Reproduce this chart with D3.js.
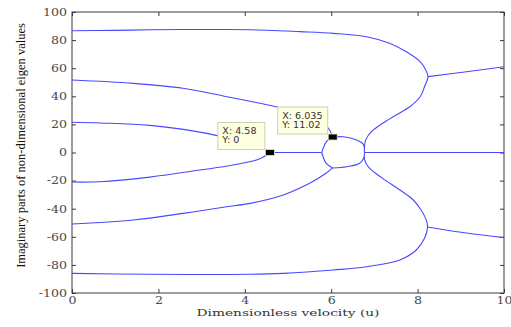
<!DOCTYPE html>
<html>
<head>
<meta charset="utf-8">
<script src="https://cdn.jsdelivr.net/npm/d3@7"></script>
<style>
  body { margin: 0; background: #fff; }
</style>
</head>
<body>
<div id="chart"></div>
<script>
// Tick values
const xTicks = [0, 2, 4, 6, 8, 10];
const yTicks = [-100, -80, -60, -40, -20, 0, 20, 40, 60, 80, 100];

// Branches of the eigenvalue loci, as [u, Im] pairs
const outerUpper = [[0, 86.7], [1, 86.9], [1.83, 87.4], [3, 87.5], [4.12, 87.4], [5.28, 86], [6.05, 84.8], [6.82, 82.4], [7.35, 77.7], [7.74, 71.7], [8.06, 64.6], [8.2, 58], [8.24, 54], [8.16, 46.8], [8.06, 39.7], [7.82, 32.6], [7.5, 26.7], [7.19, 20.8], [6.93, 14.8], [6.8, 9], [6.77, 4], [6.77, 0]];
const outerLower = [[6.77, 0], [6.77, -5], [6.88, -11], [7.19, -18.4], [7.59, -26.7], [7.9, -33.8], [8.08, -40.9], [8.2, -48], [8.23, -53], [8.16, -61.1], [7.97, -69.4], [7.59, -76.5], [6.82, -81.3], [6.05, -83.6], [4.89, -86], [4.12, -86.7], [3, -86.8], [1.8, -86.7], [0, -86]];
const branchUpper = [[8.24, 54], [9.13, 57.5], [10, 61]];
const branchLower = [[8.23, -53], [9.13, -57.3], [10, -60.6]];
const mode2Upper = [[0, 51.6], [1.42, 49.2], [2.57, 45.7], [3.58, 39.7], [4.35, 35], [4.73, 32.6], [5.3, 26.5], [5.9, 18.4], [6.035, 11.02]];
const mode2UpperRight = [[6.035, 11.02], [6.28, 11.2], [6.59, 8.9], [6.74, 6], [6.77, 3]];
const mode2Lower = [[0, -50.9], [1.42, -48], [2.57, -43.3], [3.58, -38.6], [4.12, -36.2], [4.89, -30.2], [5.5, -21.9], [5.88, -14.8], [6.035, -11]];
const mode2LowerRight = [[6.035, -11], [6.36, -10.1], [6.66, -7.7], [6.77, -3]];
const splitUpper = [[5.78, 0], [5.89, 7.7], [6.035, 11.02]];
const splitLower = [[5.78, 0], [5.88, -7.5], [6.035, -11]];
const mode3Upper = [[0, 21.5], [0.65, 21], [1.8, 19.3], [2.96, 14.5], [3.73, 9.5], [4.35, 4.5], [4.58, 0]];
const mode3Lower = [[0, -21], [0.65, -20.8], [1.8, -17.5], [2.96, -12.5], [3.73, -8.9], [4.35, -4.5], [4.58, 0]];
const zeroLeft = [[4.58, 0], [5.78, 0]];
const zeroRight = [[6.77, 0], [10, 0]];

// Data tips
const tipX = [4.58, 6.035];
const tipY = [0, 11.02];

const width = 511;
const height = 327;
const margin = { top: 12, right: 7, bottom: 34, left: 72 };

const svg = d3.select("#chart")
  .append("svg")
  .attr("width", width)
  .attr("height", height);

const x = d3.scaleLinear()
  .domain([0, 10])
  .range([margin.left, width - margin.right]);

const y = d3.scaleLinear()
  .domain([-100, 100])
  .range([height - margin.bottom, margin.top]);

const axisColor = "#3a3a3a";
const stretch = 1.2; // the source image is a bit wider than tall

// Axes with inward ticks on all four sides
const styleAxis = (g) => {
  g.select(".domain").remove();
  g.selectAll("line").attr("stroke", axisColor);
  g.selectAll("text")
    .attr("fill", "#4a4a4a")
    .attr("font-family", "DejaVu Serif")
    .attr("font-size", "10.5px");
};

const fmt = (d) => `${d}`; // plain hyphen, not unicode minus

svg.append("g")
  .attr("transform", `translate(0,${y(-100)})`)
  .call(d3.axisBottom(x).tickValues(xTicks).tickFormat(fmt).tickSize(-4).tickPadding(4))
  .call(styleAxis)
  .call((g) => g.selectAll("text").attr("transform", `scale(${stretch},1)`));

svg.append("g")
  .attr("transform", `translate(${x(0)},0)`)
  .call(d3.axisLeft(y).tickValues(yTicks).tickFormat(fmt).tickSize(-4).tickPadding(5))
  .call(styleAxis)
  .call((g) => g.selectAll("text")
    .attr("x", -5 / stretch)
    .attr("transform", `scale(${stretch},1)`));

svg.append("g")
  .attr("transform", `translate(0,${y(100)})`)
  .call(d3.axisTop(x).tickValues(xTicks).tickSize(-4).tickFormat(""))
  .call(styleAxis);

svg.append("g")
  .attr("transform", `translate(${x(10)},0)`)
  .call(d3.axisRight(y).tickValues(yTicks).tickSize(-4).tickFormat(""))
  .call(styleAxis);

// Plot frame
svg.append("rect")
  .attr("x", x(0))
  .attr("y", y(100))
  .attr("width", x(10) - x(0))
  .attr("height", y(-100) - y(100))
  .attr("fill", "none")
  .attr("stroke", axisColor)
  .attr("stroke-width", 1);

// Curves
const line = d3.line()
  .x((d) => x(d[0]))
  .y((d) => y(d[1]))
  .curve(d3.curveCatmullRom.alpha(0.5));

const branches = [
  outerUpper, outerLower, branchUpper, branchLower,
  mode2Upper, mode2UpperRight, mode2Lower, mode2LowerRight,
  splitUpper, splitLower, mode3Upper, mode3Lower, zeroLeft, zeroRight,
];

branches.forEach((b) => {
  svg.append("path")
    .datum(b)
    .attr("d", line)
    .attr("fill", "none")
    .attr("stroke", "#4848ff")
    .attr("stroke-width", 1.1);
});

// Data tip boxes and markers
tipX.forEach((tx, i) => {
  const px = x(tx);
  const py = y(tipY[i]);
  const lines = [`X: ${tx}`, `Y: ${tipY[i]}`];
  const boxW = i === 0 ? 47 : 50;

  const tip = svg.append("g")
    .attr("transform", `translate(${px - boxW - 5},${py - 30})`);

  tip.append("rect")
    .attr("width", boxW)
    .attr("height", 27)
    .attr("fill", "#ffffe1")
    .attr("stroke", "#cfcfb0")
    .attr("stroke-width", 1);

  lines.forEach((t, j) => {
    tip.append("text")
      .attr("x", 4.5 / stretch)
      .attr("y", 12 + j * 9)
      .attr("transform", `scale(${stretch},1)`)
      .text(t)
      .attr("font-family", "DejaVu Sans")
      .attr("font-size", "8px")
      .attr("fill", "#333");
  });

  svg.append("rect")
    .attr("x", px - 4.5)
    .attr("y", py - 3)
    .attr("width", 9)
    .attr("height", 6)
    .attr("fill", "#000")
    .attr("stroke", "#e8e8b0")
    .attr("stroke-width", 0.8);
});

// Axis labels
svg.append("text")
  .attr("x", (x(0) + x(10)) / 2)
  .attr("y", 316)
  .attr("text-anchor", "middle")
  .attr("font-family", "DejaVu Serif")
  .attr("font-size", "10px")
  .attr("textLength", 183)
  .attr("lengthAdjust", "spacingAndGlyphs")
  .attr("fill", "#333")
  .text("Dimensionless velocity (u)");

svg.append("text")
  .attr("transform", `translate(25,${(y(100) + y(-100)) / 2 - 7}) rotate(-90)`)
  .attr("text-anchor", "middle")
  .attr("font-family", "Liberation Serif")
  .attr("font-size", "12.5px")
  .attr("fill", "#111")
  .text("Imaginary parts of non-dimensional eigen values");
</script>
</body>
</html>
